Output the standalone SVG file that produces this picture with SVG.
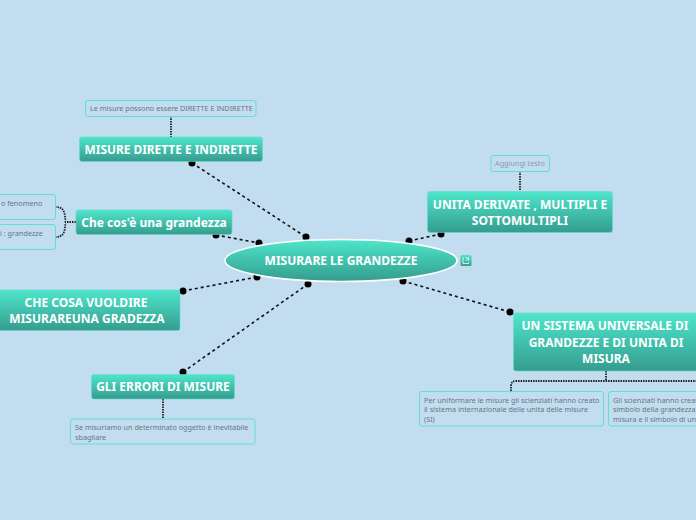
<svg xmlns="http://www.w3.org/2000/svg" width="696" height="520" viewBox="0 0 696 520">
<style>
text{font-family:"Noto Sans","Open Sans","DejaVu Sans",sans-serif}
.t{fill:#fff;font-weight:700;font-size:12px;text-anchor:middle}
.n{fill:#6b7580;font-size:7.25px}
.box{fill:url(#g);stroke:#5fdccb;stroke-width:.6}
.note{fill:#c2ddf0;stroke:#5fe0d2;stroke-width:1}
.c{fill:none;stroke:#111;stroke-width:1.6;stroke-dasharray:3 3}
.s{fill:none;stroke:#222;stroke-width:1.8;stroke-dasharray:1.500 1}
.d{fill:#000}
</style>
<defs>
<linearGradient id="g" x1="0" y1="0" x2="0" y2="1"><stop offset="0" stop-color="#4ee6cb"/><stop offset="1" stop-color="#359c8f"/></linearGradient>
</defs>
<rect width="696" height="520" fill="#c2ddf0"/>
<g id="connectors">
<path class="c" d="M192 163L306 237M216 235L259 243M183 291L257 277M183 372L308 284M409 241L441 234M403 281L510 312"/>
<path class="s" d="M171 116V137M163 399V419M520 171V191M606 371V381M76 222H66M66 222C64 222 68 207 56 207M66 222C64 222 68 237 56 237M511 391V386Q511 381 516 381H696"/>
<circle class="d" cx="192" cy="163" r="3.500"/><circle class="d" cx="306" cy="237" r="3.500"/>
<circle class="d" cx="216" cy="235" r="3.500"/><circle class="d" cx="259" cy="243" r="3.500"/>
<circle class="d" cx="183" cy="291" r="3.500"/><circle class="d" cx="257" cy="277" r="3.500"/>
<circle class="d" cx="183" cy="372" r="3.500"/><circle class="d" cx="308" cy="284" r="3.500"/>
<circle class="d" cx="409" cy="241" r="3.500"/><circle class="d" cx="441" cy="234" r="3.500"/>
<circle class="d" cx="403" cy="281" r="3.500"/><circle class="d" cx="510" cy="312" r="3.500"/>
</g>
<g id="central">
<ellipse cx="341" cy="260.500" rx="116" ry="21" fill="url(#g)" stroke="#fff" stroke-width="1.6"/>
<text class="t" x="341" y="265">MISURARE LE GRANDEZZE</text>
<rect x="460.500" y="255" width="11" height="11" rx="1.500" fill="url(#g)"/>
<path d="M464 258H463V263.500H468.500V262M465.500 257.800H468.700V261M468.500 258L465.500 261" fill="none" stroke="#fff" stroke-width=".8"/>
</g>
<g id="misure"><rect class="box" x="79.500" y="137" width="183" height="24.500" rx="2.500"/><text class="t" x="171" y="154" style="font-size:11.9px">MISURE DIRETTE E INDIRETTE</text></g>
<g id="misure-note"><rect class="note" x="85.500" y="100.500" width="170.500" height="16" rx="2.500"/><text class="n" x="90" y="111">Le misure possono essere DIRETTE E INDIRETTE</text></g>
<g id="grandezza"><rect class="box" x="76" y="210" width="156" height="24.500" rx="2.500"/><text class="t" x="154" y="227">Che cos'è una grandezza</text></g>
<g id="grandezza-note1"><rect class="note" x="-6" y="194.500" width="61.500" height="25" rx="2.500"/><text class="n" x="1" y="205.500">o fenomeno</text></g>
<g id="grandezza-note2"><rect class="note" x="-6" y="224.500" width="61.500" height="25" rx="2.500"/><text class="n" x="0" y="235.500">i : grandezze</text></g>
<g id="vuoldire"><rect class="box" x="-5" y="290" width="185" height="40.500" rx="2.500"/><text class="t" x="86" y="307">CHE COSA VUOLDIRE</text><text class="t" x="87" y="323">MISURAREUNA GRADEZZA</text></g>
<g id="errori"><rect class="box" x="91.500" y="374.500" width="143" height="24.500" rx="2.500"/><text class="t" x="163" y="391">GLI ERRORI DI MISURE</text></g>
<g id="errori-note"><rect class="note" x="70.500" y="419" width="184.500" height="25" rx="2.500"/><text class="n" x="75" y="430">Se misuriamo un determinato oggetto è inevitabile</text><text class="n" x="75" y="439.500">sbagliare</text></g>
<g id="unita"><rect class="box" x="427.500" y="191.500" width="185" height="41" rx="2.500"/><text class="t" x="520" y="209">UNITA DERIVATE , MULTIPLI E</text><text class="t" x="520" y="225">SOTTOMULTIPLI</text></g>
<g id="unita-note"><rect class="note" x="491" y="155.500" width="58.500" height="16" rx="2.500"/><text class="n" x="495" y="166" style="fill:#8d9aa6">Aggiungi testo</text></g>
<g id="sistema"><rect class="box" x="513.500" y="313" width="187" height="58" rx="2.500"/><text class="t" x="605" y="330">UN SISTEMA UNIVERSALE DI</text><text class="t" x="606" y="347">GRANDEZZE E DI UNITA DI</text><text class="t" x="606" y="363">MISURA</text></g>
<g id="sistema-note1"><rect class="note" x="419.500" y="391.500" width="184" height="34.500" rx="2.500"/><text class="n" x="424" y="402.500">Per uniformare le misure gli scienziati hanno creato</text><text class="n" x="424" y="411.500">il sistema internazionale delle unita delle misure</text><text class="n" x="424" y="421.500">(SI)</text></g>
<g id="sistema-note2"><rect class="note" x="608.500" y="391.500" width="100" height="34.500" rx="2.500"/><text class="n" x="613" y="402.500">Gli scienziati hanno creato</text><text class="n" x="613" y="411.500">simbolo della grandezza</text><text class="n" x="613" y="421.500">misura e il simbolo di un</text></g>
</svg>
